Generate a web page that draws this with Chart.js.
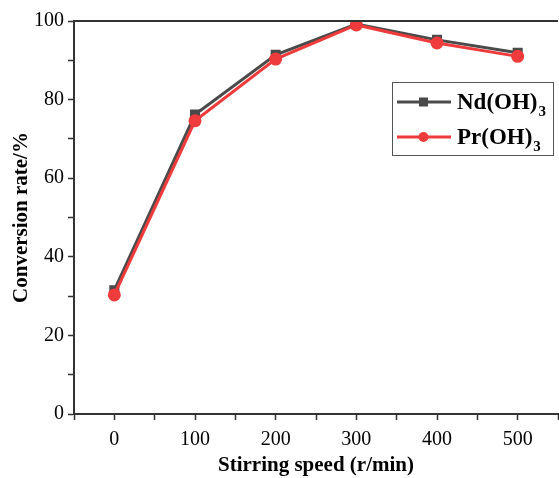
<!DOCTYPE html>
<html>
<head>
<meta charset="utf-8">
<script src="https://cdn.jsdelivr.net/npm/chart.js@4.4.0/dist/chart.umd.min.js"></script>
<style>
  html, body { margin: 0; padding: 0; background: #fff; overflow: hidden; }
  #wrap { width: 566px; height: 478px; }
</style>
</head>
<body>
<div id="wrap"><canvas id="convChart" width="566" height="478"></canvas></div>
<script>
// stirring speed (r/min)
const speeds = [0, 100, 200, 300, 400, 500];
const ndValues = [31.5, 76.2, 91.4, 99.2, 95.2, 91.9];
const prValues = [30.3, 74.6, 90.3, 99.0, 94.4, 91.0];
const seriesNames = ['Nd(OH)3', 'Pr(OH)3'];
const seriesColors = ['#4a4a4a', '#ef3b3b'];

const serif = '"Liberation Serif", "Times New Roman", serif';

// legend drawn by hand so the trailing 3 can be a subscript
const subLegend = {
  id: 'subLegend',
  afterDraw(chart) {
    const ctx = chart.ctx;
    const x0 = 392, y0 = 82, w = 161, h = 73;
    ctx.save();
    ctx.strokeStyle = '#555';
    ctx.lineWidth = 1;
    ctx.strokeRect(x0 + 0.5, y0 + 0.5, w, h);
    chart.data.datasets.slice().sort((a, b) => a.legendIdx - b.legendIdx).forEach((ds, i) => {
      const y = y0 + 20 + i * 35;
      ctx.strokeStyle = ds.borderColor;
      ctx.lineWidth = 3;
      ctx.beginPath();
      ctx.moveTo(397, y);
      ctx.lineTo(451, y);
      ctx.stroke();
      ctx.fillStyle = ds.backgroundColor;
      if (ds.pointStyle === 'rect') {
        ctx.fillRect(419, y - 4.5, 9, 9);
      } else {
        ctx.beginPath();
        ctx.arc(423.5, y, 5, 0, Math.PI * 2);
        ctx.fill();
      }
      const main = ds.label.replace(/\d$/, '');
      const sub = ds.label.slice(main.length);
      ctx.fillStyle = '#000';
      ctx.textBaseline = 'middle';
      ctx.font = 'bold 23px ' + serif;
      ctx.fillText(main, 457, y + 1);
      const mw = ctx.measureText(main).width;
      ctx.font = 'bold 15px ' + serif;
      ctx.fillText(sub, 457 + mw + 1, y + 10);
    });
    ctx.restore();
  }
};

// top frame line
const frame = {
  id: 'frame',
  afterDraw(chart) {
    const { ctx, chartArea } = chart;
    ctx.save();
    ctx.strokeStyle = '#333';
    ctx.lineWidth = 2;
    ctx.beginPath();
    ctx.moveTo(chartArea.left, chartArea.top);
    ctx.lineTo(chartArea.right, chartArea.top);
    ctx.stroke();
    ctx.restore();
  }
};

const ctx = document.getElementById('convChart').getContext('2d');
new Chart(ctx, {
  type: 'line',
  data: {
    datasets: [
      {
        label: seriesNames[0],
        data: speeds.map((s, i) => ({ x: s, y: ndValues[i] })),
        borderColor: seriesColors[0],
        backgroundColor: seriesColors[0],
        borderWidth: 3,
        pointStyle: 'rect',
        pointRadius: 5,
        order: 1,
        legendIdx: 0
      },
      {
        label: seriesNames[1],
        data: speeds.map((s, i) => ({ x: s, y: prValues[i] })),
        borderColor: seriesColors[1],
        backgroundColor: seriesColors[1],
        borderWidth: 3,
        pointStyle: 'circle',
        pointRadius: 5,
        order: 0,
        legendIdx: 1
      }
    ]
  },
  options: {
    responsive: false,
    animation: false,
    layout: { padding: { top: 21, right: 2, left: 0, bottom: 0 } },
    plugins: {
      legend: { display: false },
      tooltip: { enabled: false }
    },
    scales: {
      x: {
        type: 'linear',
        min: -50,
        max: 550,
        afterFit: (scale) => { scale.height = 64; },
        border: { color: '#333', width: 2 },
        grid: { drawOnChartArea: false, tickLength: 6, color: '#333', tickWidth: 1.5 },
        ticks: {
          stepSize: 50,
          color: '#000',
          padding: 8,
          maxRotation: 0,
          autoSkip: false,
          font: { family: serif, size: 20 },
          callback: (v) => (v >= 0 && v % 100 === 0) ? String(v) : ''
        },
        title: {
          display: true,
          text: 'Stirring speed (r/min)',
          color: '#000',
          padding: { top: 0, bottom: 0 },
          font: { family: serif, size: 21, weight: 'bold' }
        }
      },
      y: {
        min: 0,
        max: 100,
        afterFit: (scale) => { scale.width = 74; },
        border: { color: '#333', width: 2 },
        grid: { drawOnChartArea: false, tickLength: 6, color: '#333', tickWidth: 1.5 },
        ticks: {
          stepSize: 10,
          color: '#000',
          padding: 4,
          autoSkip: false,
          font: { family: serif, size: 20 },
          callback: (v) => v % 20 === 0 ? String(v) : ''
        },
        title: {
          display: true,
          text: 'Conversion rate/%',
          color: '#000',
          padding: { top: 9, bottom: 0 },
          font: { family: serif, size: 21, weight: 'bold' }
        }
      }
    }
  },
  plugins: [frame, subLegend]
});
</script>
</body>
</html>
